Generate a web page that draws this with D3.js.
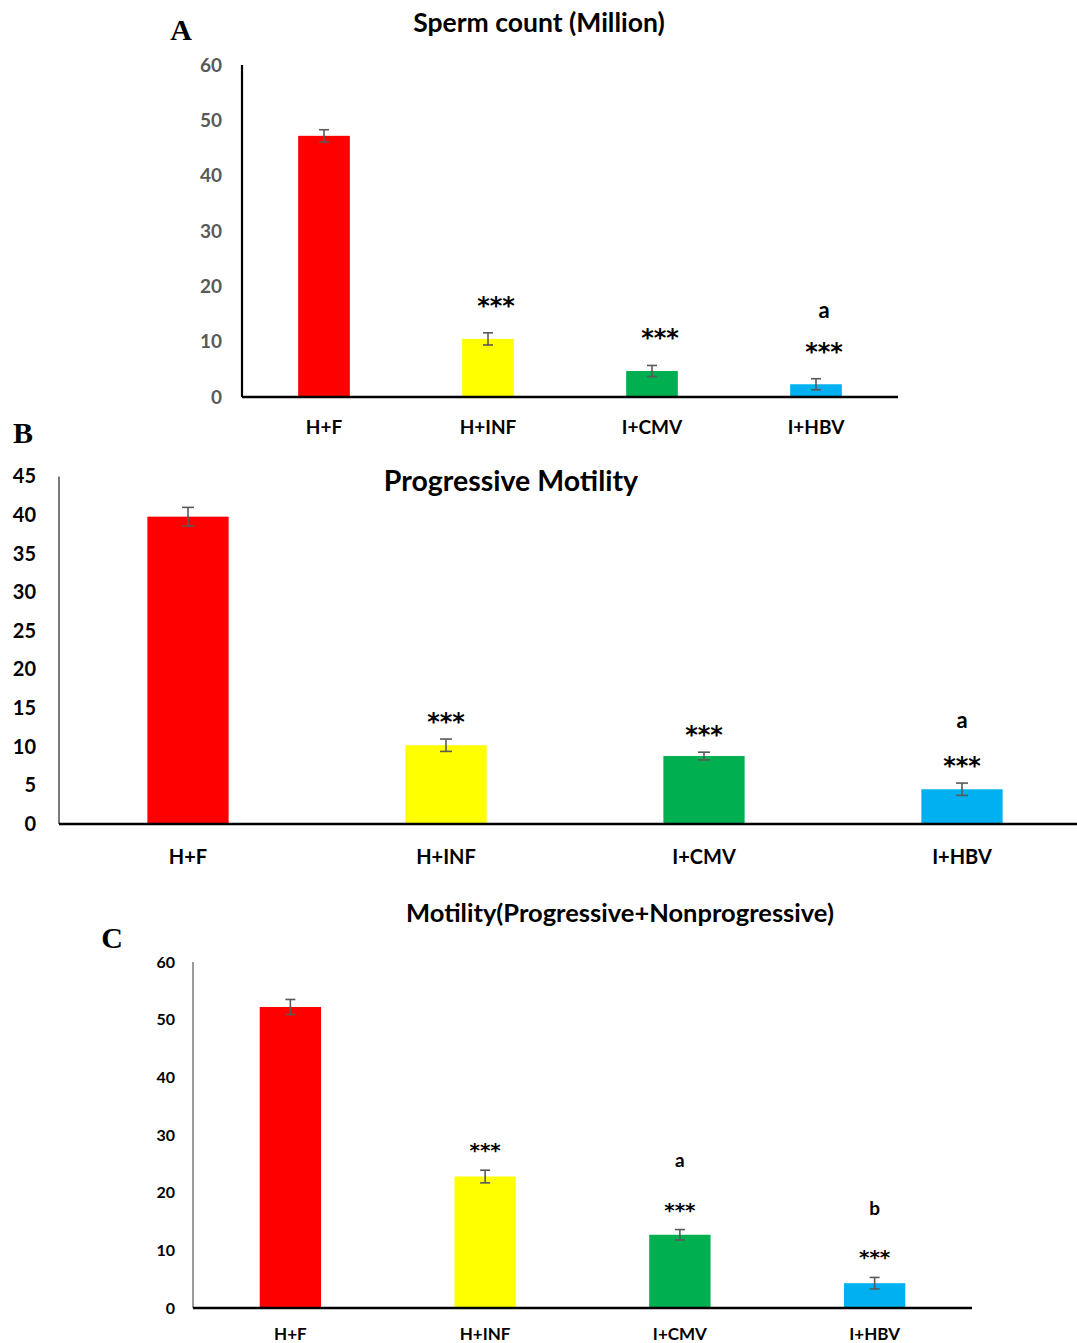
<!DOCTYPE html>
<html>
<head>
<meta charset="utf-8">
<script src="https://cdn.jsdelivr.net/npm/d3@7"></script>
<style>
  body { margin: 0; background: #fff; }
  svg { display: block; }
  text { font-family: Lato, "Open Sans", sans-serif; font-weight: bold; }
</style>
</head>
<body>
<script>
//data
var groups = ["H+F", "H+INF", "I+CMV", "I+HBV"];
var colors = ["#FF0000", "#FFFF00", "#00B050", "#00B0F0"];

var countMean = [47.2, 10.5, 4.7, 2.3];
var countErr = [1.1, 1.1, 1.0, 1.0];
var countStars = ["", "***", "***", "***"];
var countLetters = ["", "", "", "a"];
var countTicks = [0, 10, 20, 30, 40, 50, 60];

var progMean = [39.8, 10.2, 8.8, 4.5];
var progErr = [1.2, 0.8, 0.5, 0.8];
var progStars = ["", "***", "***", "***"];
var progLetters = ["", "", "", "a"];
var progTicks = [0, 5, 10, 15, 20, 25, 30, 35, 40, 45];

var totMean = [52.2, 22.8, 12.7, 4.3];
var totErr = [1.3, 1.1, 0.9, 1.0];
var totStars = ["", "***", "***", "***"];
var totLetters = ["", "", "a", "b"];
var totTicks = [0, 10, 20, 30, 40, 50, 60];

var svg = d3.select('body')
    .append('svg')
    .attr('width', 1077)
    .attr('height', 1343);

//one panel of the figure
function drawPanel(p){

    var x = d3.scaleBand()
        .domain(groups)
        .range([p.left, p.right])
        .paddingInner(0.685)
        .paddingOuter(0.3425);

    var y = d3.scaleLinear()
        .domain([0, d3.max(p.ticks)])
        .range([p.bottom, p.top]);

    var g = svg.append('g');

    //panel letter
    g.append('text')
        .attr('x', p.letterX)
        .attr('y', p.letterY)
        .attr('text-anchor', 'middle')
        .style('font-family', '"Liberation Serif", "DejaVu Serif", serif')
        .style('font-size', '30px')
        .text(p.letter);

    //title
    g.append('text')
        .attr('x', p.titleX)
        .attr('y', p.titleY)
        .attr('text-anchor', 'middle')
        .attr('dominant-baseline', 'central')
        .style('font-size', p.titleSize + 'px')
        .text(p.title);

    //y axis: labels only plus a plain line
    var yAxis = g.append('g')
        .attr('transform', 'translate(' + p.left + ',0)')
        .call(d3.axisLeft(y).tickValues(p.ticks).tickSize(0).tickPadding(p.labelPad));
    yAxis.select('.domain').remove();
    yAxis.selectAll('text')
        .style('font-size', p.tickSize + 'px')
        .style('font-family', 'Lato, sans-serif')
        .attr('fill', p.tickColor);

    g.append('line')
        .attr('x1', p.left).attr('x2', p.left)
        .attr('y1', y(d3.max(p.ticks))).attr('y2', p.bottom)
        .attr('stroke', p.yLineColor)
        .attr('stroke-width', p.yLineWidth);

    //bars
    g.selectAll('.bar')
        .data(groups)
        .enter()
        .append('rect')
        .attr('class', 'bar')
        .attr('x', function(d){ return x(d); })
        .attr('width', x.bandwidth())
        .attr('y', function(d, i){ return y(p.mean[i]); })
        .attr('height', function(d, i){ return p.bottom - y(p.mean[i]); })
        .attr('fill', function(d, i){ return colors[i]; });

    //error bars
    var cap = p.cap;
    var eb = g.selectAll('.err')
        .data(groups)
        .enter()
        .append('g')
        .attr('class', 'err')
        .attr('stroke', '#595959')
        .attr('stroke-width', 1.6);
    eb.append('line')
        .attr('x1', function(d){ return x(d) + x.bandwidth() / 2; })
        .attr('x2', function(d){ return x(d) + x.bandwidth() / 2; })
        .attr('y1', function(d, i){ return y(p.mean[i] + p.err[i]); })
        .attr('y2', function(d, i){ return y(p.mean[i] - p.err[i]); });
    [1, -1].forEach(function(s){
        eb.append('line')
            .attr('x1', function(d){ return x(d) + x.bandwidth() / 2 - cap; })
            .attr('x2', function(d){ return x(d) + x.bandwidth() / 2 + cap; })
            .attr('y1', function(d, i){ return y(p.mean[i] + s * p.err[i]); })
            .attr('y2', function(d, i){ return y(p.mean[i] + s * p.err[i]); });
    });

    //x axis line
    g.append('line')
        .attr('x1', p.left).attr('x2', p.right)
        .attr('y1', p.bottom).attr('y2', p.bottom)
        .attr('stroke', '#000')
        .attr('stroke-width', 2.5);

    //category labels
    g.selectAll('.cat')
        .data(groups)
        .enter()
        .append('text')
        .attr('x', function(d){ return x(d) + x.bandwidth() / 2; })
        .attr('y', p.catY)
        .attr('text-anchor', 'middle')
        .attr('dominant-baseline', 'central')
        .style('font-size', p.catSize + 'px')
        .text(function(d){ return d; });

    //significance marks (DejaVu has the bigger asterisk)
    g.selectAll('.star')
        .data(groups)
        .enter()
        .append('text')
        .attr('x', function(d){ return x(d) + x.bandwidth() / 2 + p.starShift; })
        .attr('y', function(d, i){ return y(p.mean[i] + p.err[i]) - p.starGap; })
        .attr('dy', '0.2em')
        .attr('text-anchor', 'middle')
        .attr('dominant-baseline', 'central')
        .style('font-family', '"DejaVu Sans", sans-serif')
        .style('font-size', p.starSize + 'px')
        .text(function(d, i){ return p.stars[i]; });

    g.selectAll('.lett')
        .data(groups)
        .enter()
        .append('text')
        .attr('x', function(d){ return x(d) + x.bandwidth() / 2 + p.starShift; })
        .attr('y', function(d, i){ return y(p.mean[i] + p.err[i]) - p.starGap - p.letterGap; })
        .attr('text-anchor', 'middle')
        .attr('dominant-baseline', 'central')
        .style('font-size', p.letSize + 'px')
        .text(function(d, i){ return p.letters[i]; });
}

drawPanel({
    letter: 'A', letterX: 181, letterY: 40,
    title: 'Sperm count (Million)', titleX: 539, titleY: 22, titleSize: 26.5,
    left: 242, right: 898, top: 65, bottom: 397,
    ticks: countTicks, tickSize: 19, tickColor: '#595959', labelPad: 20,
    yLineColor: '#000', yLineWidth: 2.2,
    mean: countMean, err: countErr, stars: countStars, letters: countLetters,
    cap: 5, catY: 426, catSize: 19,
    starShift: 8, starGap: 32, starSize: 24, letterGap: 37, letSize: 22
});

drawPanel({
    letter: 'B', letterX: 23, letterY: 443,
    title: 'Progressive Motility', titleX: 511, titleY: 480, titleSize: 28.5,
    left: 59, right: 1091, top: 476.5, bottom: 824,
    ticks: progTicks, tickSize: 20, tickColor: '#000', labelPad: 23,
    yLineColor: '#404040', yLineWidth: 1.4,
    mean: progMean, err: progErr, stars: progStars, letters: progLetters,
    cap: 6, catY: 856, catSize: 20,
    starShift: 0, starGap: 22, starSize: 24, letterGap: 42, letSize: 22
});

drawPanel({
    letter: 'C', letterX: 112, letterY: 948,
    title: 'Motility(Progressive+Nonprogressive)', titleX: 620, titleY: 912, titleSize: 25.5,
    left: 193, right: 972, top: 962, bottom: 1308,
    ticks: totTicks, tickSize: 16, tickColor: '#000', labelPad: 18,
    yLineColor: '#595959', yLineWidth: 1.2,
    mean: totMean, err: totErr, stars: totStars, letters: totLetters,
    cap: 5, catY: 1333, catSize: 17,
    starShift: 0, starGap: 24, starSize: 20, letterGap: 46, letSize: 19
});
</script>
</body>
</html>
